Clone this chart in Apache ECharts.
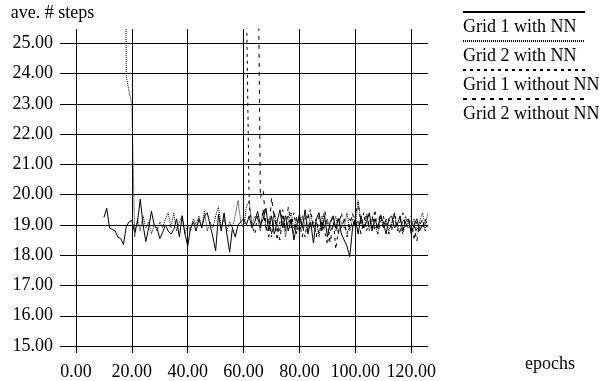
<!DOCTYPE html>
<html>
<head>
<meta charset="utf-8">
<script src="https://cdn.jsdelivr.net/npm/echarts@6.0.0/dist/echarts.min.js"></script>
<style>
  html, body { margin: 0; padding: 0; background: #fff; }
  #chart { width: 600px; height: 381px; }
</style>
</head>
<body>
<div id="chart"></div>
<script>
// series names (legend order)
const seriesNames = ['Grid 1 with NN', 'Grid 2 with NN', 'Grid 1 without NN', 'Grid 2 without NN'];

// first epoch of each series, values follow one per epoch
const startEpochs = [10, 17, 61, 65];

const grid1WithNN = [
  19.25, 19.55, 18.9, 18.85, 18.8, 18.6, 18.55, 18.35, 18.95, 19.1,
  19.15, 18.75, 19.1, 19.85, 19.0, 18.45, 18.9, 19.45, 19.0, 18.9,
  18.55, 18.75, 19.0, 18.8, 18.7, 18.85, 19.2, 18.6, 19.3, 18.7,
  18.3, 18.9, 19.1, 18.8, 19.2, 18.9, 19.3, 19.4, 19.0, 18.6,
  18.15, 19.35, 18.8, 19.4, 18.7, 18.1, 18.9, 18.6, 19.0, 19.1,
  19.2, 19.0, 19.3, 18.9, 19.1, 19.45, 19.0, 19.2, 19.55, 18.8,
  19.3, 18.7, 19.1, 19.5, 18.9, 19.3, 18.8, 19.2, 18.5, 19.0,
  19.35, 18.9, 19.5, 18.7, 19.1, 18.4, 19.2, 19.4, 18.8, 19.3,
  18.6, 19.1, 19.3, 18.9, 19.2, 18.7, 18.5, 18.3, 17.95, 18.9,
  19.2, 18.7, 19.3, 18.9, 19.1, 19.4, 18.8, 19.2, 18.9, 19.3,
  19.1, 18.7, 19.2, 19.3, 18.9, 19.0, 19.3, 18.8, 19.1, 19.2,
  18.7, 19.0, 19.2, 18.8, 19.0, 18.9, 19.0
];

const grid2WithNN = [
  40, 23.9, 23.4, 23.0, 18.6, 19.2, 18.8, 19.3, 18.9, 19.1,
  18.7, 19.0, 18.8, 19.1, 18.9, 19.2, 19.4, 18.9, 19.4, 18.8,
  19.1, 19.3, 18.7, 19.0, 18.8, 19.2, 19.0, 19.3, 18.9, 19.45,
  18.8, 19.1, 18.9, 19.3, 19.6, 18.9, 19.2, 18.8, 19.1, 18.9,
  19.3, 19.8, 19.1, 18.9, 19.6, 19.8, 19.0, 19.3, 19.2, 18.8,
  19.5, 18.9, 19.2, 18.7, 19.4, 19.0, 18.8, 19.3, 18.6, 19.1,
  19.4, 18.9, 19.2, 18.7, 19.3, 19.0, 18.8, 19.4, 18.9, 19.1,
  18.6, 19.3, 18.9, 19.2, 18.8, 19.0, 19.3, 18.7, 19.1, 18.9,
  19.4, 18.8, 19.2, 19.0, 19.8, 19.1, 18.9, 19.3, 18.8, 19.2,
  19.0, 18.7, 19.3, 18.9, 19.2, 18.8, 19.1, 19.4, 18.9, 19.0,
  18.7, 19.3, 19.0, 18.9, 19.2, 18.8, 19.1, 19.4, 19.0, 19.4
];

const grid1WithoutNN = [
  26.5, 19.6, 19.0, 18.7, 19.3, 18.9, 19.5, 18.8, 19.2, 18.6,
  19.4, 18.5, 19.1, 19.5, 18.8, 19.3, 18.9, 19.4, 18.7, 19.2,
  19.0, 18.6, 19.3, 19.5, 18.9, 19.2, 18.7, 19.1, 18.8, 18.35,
  19.0, 19.3, 18.2, 18.9, 19.4, 19.0, 18.7, 19.2, 18.9, 19.3,
  19.75, 19.0, 19.4, 18.8, 19.2, 18.9, 19.5, 18.7, 19.1, 19.3,
  18.9, 19.2, 18.8, 19.4, 19.0, 18.7, 19.2, 19.0, 18.9, 19.3,
  18.5, 19.1, 18.9, 19.2, 18.8, 19.0
];

const grid2WithoutNN = [
  30, 19.9, 20.15, 19.0, 18.6, 19.9, 19.2, 18.9, 18.5, 19.3,
  18.8, 19.6, 19.0, 18.7, 19.3, 19.1, 18.6, 19.2, 19.4, 18.9,
  19.1, 18.6, 19.3, 18.9, 19.5, 19.0, 18.4, 19.1, 18.8, 19.3,
  18.9, 19.2, 18.6, 19.0, 19.4, 18.9, 19.2, 18.7, 19.1, 19.4,
  18.9, 19.3, 18.8, 19.0, 19.4, 18.9, 19.2, 18.7, 19.0, 19.3,
  18.8, 19.1, 19.4, 18.9, 19.2, 18.8, 19.0, 18.45, 19.1, 18.9,
  19.2, 18.9
];

// tick labels
const xTicks = [0, 20, 40, 60, 80, 100, 120];
const yTicks = [15, 16, 17, 18, 19, 20, 21, 22, 23, 24, 25];

const allValues = [grid1WithNN, grid2WithNN, grid1WithoutNN, grid2WithoutNN];
const dashes = ['solid', [1, 1], [3, 4], [4, 5]];

const font = 'Liberation Serif';

const chart = echarts.init(document.getElementById('chart'), null, { renderer: 'canvas' });

const series = allValues.map((vals, i) => ({
  name: seriesNames[i],
  type: 'line',
  data: vals.map((v, k) => [startEpochs[i] + k, v]),
  symbol: 'none',
  showSymbol: false,
  lineStyle: { color: '#000', width: 1, type: dashes[i] },
  itemStyle: { color: '#000' },
  clip: true
}));

const option = {
  animation: false,
  backgroundColor: '#fff',
  textStyle: { fontFamily: font, color: '#000' },
  grid: { left: 76, right: 172, top: 29, bottom: 28 },
  legend: {
    orient: 'vertical',
    left: 462,
    top: -18,
    padding: 0,
    itemWidth: 122,
    itemHeight: 14,
    itemGap: -31,
    selectedMode: false,
    data: seriesNames,
    // hide the symbol dot, keep the line sample
    itemStyle: { color: 'rgba(0,0,0,0)', borderWidth: 0 },
    // label goes on a second line, under the sample
    formatter: name => '\n' + name,
    textStyle: {
      fontFamily: font, fontSize: 18, color: '#000', lineHeight: 30,
      padding: [0, 0, 0, -127]
    }
  },
  xAxis: {
    type: 'value',
    min: 0,
    max: 126,
    name: 'epochs',
    nameLocation: 'end',
    nameGap: 97,
    nameTextStyle: { fontFamily: font, fontSize: 18, color: '#000', verticalAlign: 'top', lineHeight: 22 },
    axisLine: { show: false },
    axisTick: { show: false, customValues: xTicks },
    axisLabel: {
      customValues: xTicks,
      margin: 10,
      fontFamily: font, fontSize: 18, color: '#000',
      formatter: v => v.toFixed(2)
    },
    splitLine: { show: true, lineStyle: { color: '#000', width: 1 } }
  },
  yAxis: {
    type: 'value',
    min: 14.77,
    max: 25.47,
    name: 'ave. # steps',
    nameLocation: 'end',
    nameGap: 7,
    nameTextStyle: { fontFamily: font, fontSize: 18, color: '#000', padding: [0, 47, 0, 0] },
    axisLine: { show: false },
    axisTick: { show: true, inside: false, length: 16, customValues: yTicks, lineStyle: { color: '#000', width: 1 } },
    axisLabel: {
      customValues: yTicks,
      margin: 23,
      fontFamily: font, fontSize: 18, color: '#000',
      formatter: v => v.toFixed(2)
    },
    splitLine: { show: true, lineStyle: { color: '#000', width: 1 } }
  },
  series: series
};

chart.setOption(option);
</script>
</body>
</html>
